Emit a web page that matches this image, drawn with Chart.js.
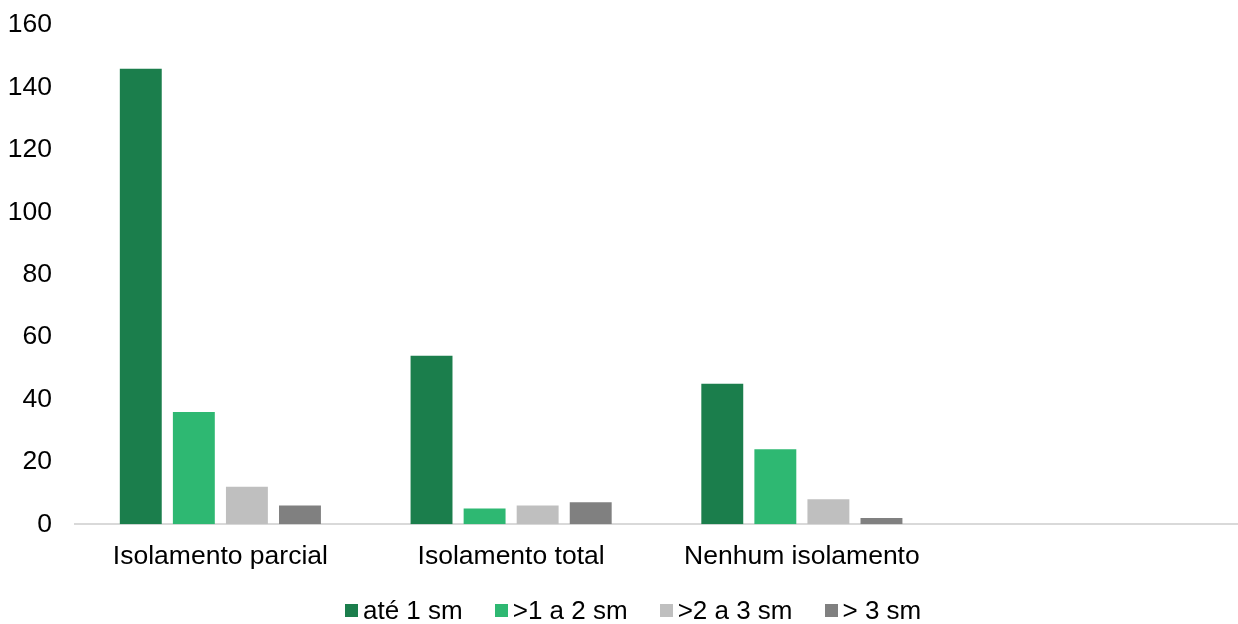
<!DOCTYPE html>
<html>
<head>
<meta charset="utf-8">
<script src="https://cdn.jsdelivr.net/npm/chart.js@4"></script>
<style>
  html, body { margin: 0; padding: 0; background: #fff; }
  #wrap { position: relative; width: 1238px; height: 624px; }
  #legend {
    position: absolute; left: 345px; top: 594px; height: 32px;
    display: flex; align-items: center;
    font-family: "Liberation Sans", Arial, sans-serif; font-size: 26px; color: #000;
    white-space: nowrap;
  }
  #legend .item { display: flex; align-items: center; margin-right: 32px; }
  #legend .box { width: 13px; height: 13px; margin-right: 5px; }
</style>
</head>
<body>
<div id="wrap">
  <canvas id="myBarChart"></canvas>
  <div id="legend"></div>
</div>
<script>
const categories = ['Isolamento parcial', 'Isolamento total', 'Nenhum isolamento', ''];
const seriesNames = ['até 1 sm', '>1 a 2 sm', '>2 a 3 sm', '> 3 sm'];
const ate1 = [146, 54, 45, null];
const de1a2 = [36, 5, 24, null];
const de2a3 = [12, 6, 8, null];
const mais3 = [6, 7, 2, null];
const seriesColors = ['#1b7e4c', '#2eb872', '#bfbfbf', '#808080'];

const ctx = document.getElementById('myBarChart');
const fontFamily = '"Liberation Sans", Arial, sans-serif';

const data = {
  labels: categories,
  datasets: [ate1, de1a2, de2a3, mais3].map((values, i) => ({
    label: seriesNames[i],
    data: values,
    backgroundColor: seriesColors[i],
    categoryPercentage: 0.73,
    barPercentage: 0.79
  }))
};

const config = {
  type: 'bar',
  data: data,
  options: {
    responsive: true,
    maintainAspectRatio: false,
    animation: false,
    layout: {
      padding: { top: 25, left: 8, right: 0, bottom: 34 }
    },
    scales: {
      x: {
        grid: { display: false, drawTicks: false },
        border: { display: true, color: '#d9d9d9', width: 2 },
        ticks: {
          color: '#000',
          padding: 17,
          font: { family: fontFamily, size: 26.5 }
        }
      },
      y: {
        min: 0,
        max: 160,
        grid: { display: false, drawTicks: false },
        border: { display: false },
        afterFit: (scale) => {
          scale.width = 67;
          scale.paddingTop = 0;
          scale.paddingBottom = 0;
        },
        ticks: {
          stepSize: 20,
          color: '#000',
          padding: 23,
          font: { family: fontFamily, size: 26.5 }
        }
      }
    },
    plugins: {
      legend: { display: false },
      tooltip: { enabled: false }
    }
  }
};

const chart = new Chart(ctx, config);

// legend built from the chart's datasets
const legendEl = document.getElementById('legend');
chart.data.datasets.forEach((ds) => {
  const item = document.createElement('div');
  item.className = 'item';
  const box = document.createElement('span');
  box.className = 'box';
  box.style.background = ds.backgroundColor;
  const text = document.createElement('span');
  text.textContent = ds.label;
  item.appendChild(box);
  item.appendChild(text);
  legendEl.appendChild(item);
});
</script>
</body>
</html>
